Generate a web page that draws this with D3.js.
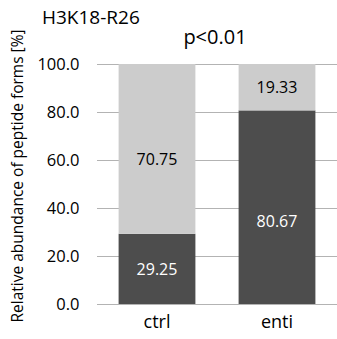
<!DOCTYPE html>
<html><head><meta charset="utf-8">
<script src="https://cdn.jsdelivr.net/npm/d3@7"></script>
<style>body{margin:0;background:#fff}svg{display:block}text{font-family:"Open Sans",sans-serif}</style>
</head><body>
<svg id="c" width="337" height="339"></svg>
<script>
const categories = ["ctrl","enti"];
const darkValues = [29.25, 80.67];
const lightValues = [70.75, 19.33];
const yTicks = [0,20,40,60,80,100];
const title = "H3K18-R26";
const pLabel = "p<0.01";
const yLabel = "Relative abundance of peptide forms [%]";

const FONT = "'Open Sans',sans-serif";
const svg = d3.select("#c");
const m = {l:97, r:337, t:64, b:304};
const x = d3.scaleBand().domain(categories).range([m.l, m.r]).paddingInner(0.36).paddingOuter(0.18);
const y = d3.scaleLinear().domain([0,100]).range([m.b, m.t]);

// gridlines
svg.append("g").selectAll("line").data(yTicks).join("line")
  .attr("x1", m.l).attr("x2", m.r).attr("y1", d=>Math.round(y(d))+0.5).attr("y2", d=>Math.round(y(d))+0.5)
  .attr("stroke", "#b3b3b3").attr("stroke-width", 1);

const data = categories.map((c,i)=>({c, dark:darkValues[i], light:lightValues[i]}));
const g = svg.append("g");
g.selectAll("rect.d").data(data).join("rect")
  .attr("x", d=>x(d.c)).attr("width", x.bandwidth())
  .attr("y", d=>y(d.dark)).attr("height", d=>y(0)-y(d.dark)).attr("fill","#4d4d4d");
g.selectAll("rect.l").data(data).join("rect")
  .attr("x", d=>x(d.c)).attr("width", x.bandwidth())
  .attr("y", d=>y(d.dark+d.light)).attr("height", d=>y(d.dark)-y(d.dark+d.light)).attr("fill","#cccccc");

// label offset heuristic (labels in tall segments sit a bit below centre)
const off = (h)=>Math.max(0,(h-100)*0.15);
g.selectAll("text.d").data(data).join("text")
  .attr("x", d=>x(d.c)+x.bandwidth()/2)
  .attr("y", d=>{const h=y(0)-y(d.dark);return y(d.dark/2)+off(h)+6;})
  .attr("text-anchor","middle").attr("font-size",16).attr("fill","#ffffff").text(d=>d.dark.toFixed(2));
g.selectAll("text.l").data(data).join("text")
  .attr("x", d=>x(d.c)+x.bandwidth()/2)
  .attr("y", d=>{const h=y(d.dark)-y(d.dark+d.light);return y(d.dark+d.light/2)+off(h)+6;})
  .attr("text-anchor","middle").attr("font-size",16).attr("fill","#000000").text(d=>d.light.toFixed(2));

// y axis tick labels
const yAxis = d3.axisLeft(y).tickValues(yTicks).tickFormat(d3.format(".1f")).tickSize(0).tickPadding(0);
const ya = svg.append("g").attr("transform", `translate(79.5,0)`).call(yAxis);
ya.select(".domain").remove();
ya.selectAll("text").attr("font-size",16.5).attr("fill","#000").attr("font-family",FONT);

// x axis labels
const xAxis = d3.axisBottom(x).tickSize(0).tickPadding(0);
const xa = svg.append("g").attr("transform", `translate(0,${m.b+11})`).call(xAxis);
xa.select(".domain").remove();
xa.selectAll("text").attr("font-size",18).attr("fill","#000").attr("font-family",FONT);

// titles
svg.append("text").attr("x",42).attr("y",24).attr("font-size",19).attr("fill","#000").text(title);
svg.append("text").attr("x",215).attr("y",44).attr("text-anchor","middle").attr("font-size",20).attr("fill","#000").text(pLabel);
svg.append("text").attr("transform",`translate(23,${(m.t+m.b)/2-8}) rotate(-90)`).attr("text-anchor","middle")
  .attr("font-size",15.5).attr("fill","#000").text(yLabel);
</script>
</body></html>
